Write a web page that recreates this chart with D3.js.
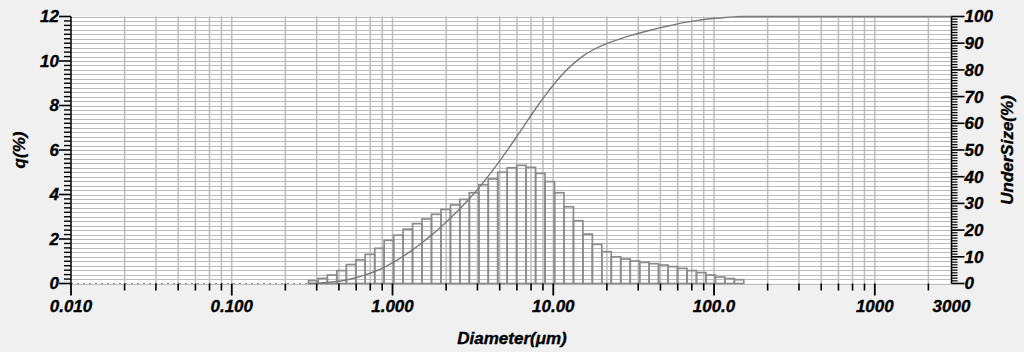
<!DOCTYPE html>
<html>
<head>
<meta charset="utf-8">
<script src="https://cdn.jsdelivr.net/npm/d3@7"></script>
<style>
  html, body { margin: 0; padding: 0; background: #f0f0f0; }
  svg { display: block; }
  text { font-family: "Liberation Sans", Arial, sans-serif; font-weight: bold; font-style: italic; fill: #000; stroke: #000; stroke-width: 0.35px; }
</style>
</head>
<body>
<svg id="chart" width="1024" height="352"></svg>
<script>
// ---- data ----
const binEdges = [0.300, 0.344, 0.393, 0.450, 0.516, 0.591, 0.676, 0.775, 0.887, 1.016,
  1.163, 1.332, 1.526, 1.747, 2.001, 2.292, 2.624, 3.005, 3.441, 3.940,
  4.512, 5.167, 5.916, 6.776, 7.760, 8.886, 10.18, 11.65, 13.35, 15.28,
  17.50, 20.04, 22.95, 26.28, 30.10, 34.46, 39.47, 45.19, 51.76, 59.27,
  67.87, 77.72, 89.00, 101.9, 116.7, 133.7, 153.1];
const qValues = [0.13, 0.23, 0.38, 0.58, 0.85, 1.06, 1.31, 1.58, 1.94, 2.17,
  2.44, 2.69, 2.90, 3.11, 3.33, 3.53, 3.78, 4.08, 4.44, 4.70,
  5.00, 5.20, 5.31, 5.22, 4.95, 4.58, 4.08, 3.45, 2.82, 2.22,
  1.76, 1.43, 1.20, 1.10, 1.01, 0.95, 0.89, 0.83, 0.76, 0.68,
  0.58, 0.49, 0.38, 0.29, 0.22, 0.17];
const underSize = [0, 0.13, 0.36, 0.73, 1.31, 2.15, 3.20, 4.50, 6.07, 8.00,
  10.15, 12.57, 15.24, 18.11, 21.20, 24.50, 28.00, 31.76, 35.80, 40.21,
  44.87, 49.83, 54.99, 60.26, 65.44, 70.35, 74.89, 78.94, 82.36, 85.16,
  87.36, 89.11, 90.53, 91.72, 92.81, 93.81, 94.76, 95.64, 96.46, 97.22,
  97.89, 98.47, 98.96, 99.34, 99.63, 99.85, 100];
const curveTailDiam = [3000];
const curveTailValue = [100];
const xMajorTicks = [0.01, 0.1, 1, 10, 100, 1000];
const xTickLabels = ["0.010", "0.100", "1.000", "10.00", "100.0", "1000"];
const xEndLabel = "3000";
const xDecades = [-2, -1, 0, 1, 2, 3];
const xMinorSteps = [2, 3, 4, 5, 6, 7];   // instrument places them on a base-8 spacing
const xMinorBase = 8;
const qTicks = [0, 2, 4, 6, 8, 10, 12];
const usTicks = [0, 10, 20, 30, 40, 50, 60, 70, 80, 90, 100];
const labels = { x: "Diameter(\u03bcm)", yLeft: "q(%)", yRight: "UnderSize(%)" };

// ---- layout ----
const svg = d3.select("#chart");
const pLeft = 71, pRight = 951.5, pTop = 16.5, pBottom = 283.5;
const x = d3.scaleLog().domain([0.01, 3000]).range([pLeft, pRight]);
const yL = d3.scaleLinear().domain([0, 12]).range([pBottom, pTop]);
const yR = d3.scaleLinear().domain([0, 100]).range([pBottom, pTop]);

// plot background
svg.append("rect").attr("x", pLeft).attr("y", pTop).attr("width", pRight - pLeft).attr("height", pBottom - pTop).attr("fill", "#ffffff");

// minor x tick values
const xMinor = [];
xDecades.forEach(d => xMinorSteps.forEach(k => {
  const v = Math.pow(10, d + Math.log(k) / Math.log(xMinorBase));
  if (v <= 3000) xMinor.push(v);
}));

// horizontal gridlines every 0.2
const hGrid = d3.range(0, 12.0001, 0.2);
svg.append("g").selectAll("line").data(hGrid).join("line")
  .attr("x1", pLeft).attr("x2", pRight)
  .attr("y1", d => Math.round(yL(d)) + 0.5).attr("y2", d => Math.round(yL(d)) + 0.5)
  .attr("stroke", "#bcbcbc").attr("stroke-width", 1);

// vertical gridlines
svg.append("g").selectAll("line").data(xMajorTicks.concat(xMinor).filter(v => v > 0.01)).join("line")
  .attr("x1", d => x(d)).attr("x2", d => x(d))
  .attr("y1", pTop).attr("y2", pBottom)
  .attr("stroke", "#bcbcbc").attr("stroke-width", 1.5);

// baseline dashed
svg.append("line").attr("x1", pLeft).attr("x2", x(binEdges[0])).attr("y1", pBottom).attr("y2", pBottom)
  .attr("stroke", "#8a8a8a").attr("stroke-width", 1).attr("stroke-dasharray", "2,4");

// bars
svg.append("g").selectAll("rect").data(qValues).join("rect")
  .attr("x", (d, i) => x(binEdges[i]))
  .attr("width", (d, i) => x(binEdges[i + 1]) - x(binEdges[i]))
  .attr("y", d => yL(d))
  .attr("height", d => pBottom - yL(d))
  .attr("fill", "none").attr("stroke", "#8c8c8c").attr("stroke-width", 1.7);

// cumulative curve
const curvePts = binEdges.map((d, i) => [d, underSize[i]])
  .concat(curveTailDiam.map((d, i) => [d, curveTailValue[i]]));
svg.append("path").datum(curvePts)
  .attr("d", d3.line().x(d => x(d[0])).y(d => yR(d[1])).curve(d3.curveMonotoneX))
  .attr("fill", "none").attr("stroke", "#7a7a7a").attr("stroke-width", 1.4);

// ---- axes ----
// left axis
svg.append("line").attr("x1", pLeft).attr("x2", pLeft).attr("y1", pTop).attr("y2", pBottom + 1)
  .attr("stroke", "#000").attr("stroke-width", 1.5);
const qMinor = d3.range(0, 12.0001, 0.2).filter(v => Math.abs(v / 2 - Math.round(v / 2)) > 1e-6);
svg.append("g").selectAll("line").data(qMinor).join("line")
  .attr("x1", pLeft - 7).attr("x2", pLeft).attr("y1", d => yL(d)).attr("y2", d => yL(d))
  .attr("stroke", "#000").attr("stroke-width", 1.4);
svg.append("g").selectAll("line").data(qTicks).join("line")
  .attr("x1", pLeft - 12).attr("x2", pLeft).attr("y1", d => yL(d)).attr("y2", d => yL(d))
  .attr("stroke", "#000").attr("stroke-width", 1.6);
svg.append("g").selectAll("text").data(qTicks).join("text")
  .attr("x", pLeft - 12).attr("y", d => yL(d)).attr("dy", "0.35em")
  .attr("text-anchor", "end").attr("font-size", 17).text(d => d);

// right axis
svg.append("line").attr("x1", pRight).attr("x2", pRight).attr("y1", pTop).attr("y2", pBottom)
  .attr("stroke", "#000").attr("stroke-width", 1.5);
const usMinor = d3.range(0, 100.001, 1).filter(v => v % 10 !== 0);
svg.append("g").selectAll("line").data(usMinor).join("line")
  .attr("x1", pRight).attr("x2", pRight + 6).attr("y1", d => yR(d)).attr("y2", d => yR(d))
  .attr("stroke", "#000").attr("stroke-width", 1.2);
svg.append("g").selectAll("line").data(usTicks).join("line")
  .attr("x1", pRight).attr("x2", pRight + 13).attr("y1", d => yR(d)).attr("y2", d => yR(d))
  .attr("stroke", "#000").attr("stroke-width", 1.6);
svg.append("g").selectAll("text").data(usTicks).join("text")
  .attr("x", pRight + 13).attr("y", d => yR(d)).attr("dy", "0.35em")
  .attr("text-anchor", "start").attr("font-size", 17).text(d => d);

// bottom axis ticks
svg.append("g").selectAll("line").data(xMinor).join("line")
  .attr("x1", d => x(d)).attr("x2", d => x(d)).attr("y1", pBottom).attr("y2", pBottom + 7)
  .attr("stroke", "#000").attr("stroke-width", 1.6);
svg.append("g").selectAll("line").data(xMajorTicks).join("line")
  .attr("x1", d => x(d)).attr("x2", d => x(d)).attr("y1", pBottom).attr("y2", pBottom + 12)
  .attr("stroke", "#000").attr("stroke-width", 1.8);
svg.append("g").selectAll("text").data(xMajorTicks).join("text")
  .attr("x", d => x(d)).attr("y", 312).attr("text-anchor", "middle").attr("font-size", 17)
  .text((d, i) => xTickLabels[i]);
svg.append("text").attr("x", x(3000)).attr("y", 312).attr("text-anchor", "middle").attr("font-size", 17).text(xEndLabel);

// axis titles
svg.append("text").attr("transform", "translate(25,150) rotate(-90)").attr("text-anchor", "middle")
  .attr("font-size", 17).text(labels.yLeft);
svg.append("text").attr("transform", "translate(1013,150) rotate(-90)").attr("text-anchor", "middle")
  .attr("font-size", 17).text(labels.yRight);
svg.append("text").attr("x", 512).attr("y", 344).attr("text-anchor", "middle")
  .attr("font-size", 17).text(labels.x);
</script>
</body>
</html>
